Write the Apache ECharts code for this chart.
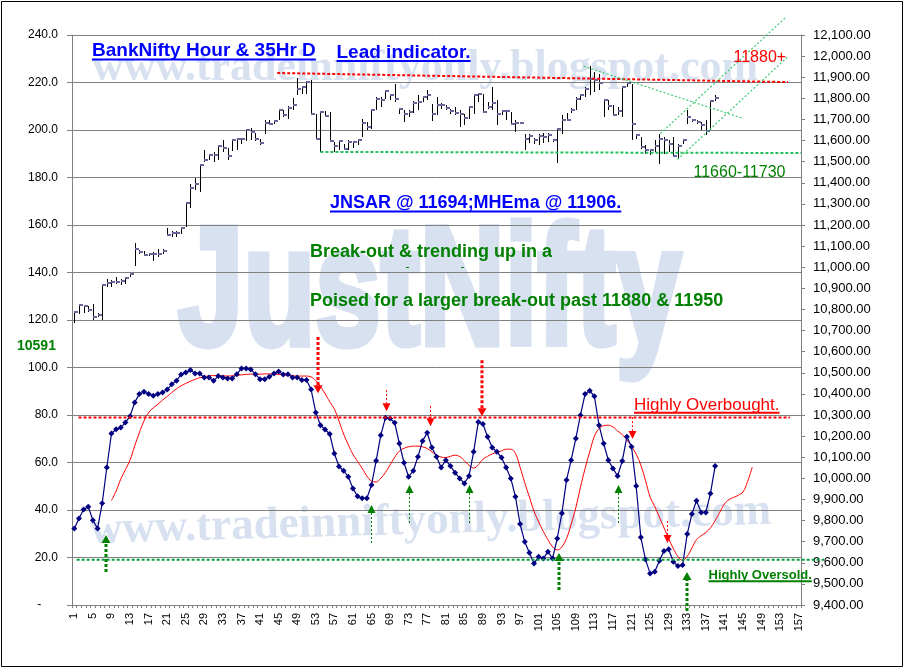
<!DOCTYPE html>
<html><head><meta charset="utf-8">
<script src="https://cdn.jsdelivr.net/npm/echarts@6/dist/echarts.min.js"></script>
<style>html,body{margin:0;padding:0;background:#fff}#c{width:906px;height:670px}</style>
</head><body><div id="c"></div>
<script>
// ---------------- DATA ----------------
const categories = [];
for (let i = 1; i <= 157; i++) categories.push(String(i));

const leftTicks = [0, 20, 40, 60, 80, 100, 120, 140, 160, 180, 200, 220, 240];

// BankNifty hourly bars (right axis) - categories 1..139
const priceHigh = [10789,10820,10820,10817,10825,10781,10915,10946,10939,10954,10946,10951,10970,11117,11081,11077,11068,11073,11084,11084,
11188,11172,11172,11191,11305,11393,11425,11483,11557,11538,11546,11573,11601,11565,11606,11614,11609,11652,11660,11636,
11609,11696,11696,11699,11751,11744,11762,11803,11898,11854,11878,11886,11728,11739,11740,11736,11594,11605,11586,11601,
11594,11606,11704,11688,11747,11804,11804,11838,11822,11867,11751,11743,11743,11788,11815,11810,11841,11775,11807,11778,
11767,11751,11759,11743,11728,11759,11815,11826,11822,11783,11854,11791,11747,11747,11736,11696,11688,11630,11630,11614,
11630,11636,11636,11609,11657,11720,11731,11756,11804,11822,11854,11952,11925,11917,11799,11791,11767,11759,11854,11878,
11870,11633,11617,11578,11562,11601,11633,11617,11601,11617,11586,11605,11743,11704,11696,11688,11696,11791,11815];
const priceLow = [10737,10778,10784,10789,10752,10765,10752,10907,10904,10920,10915,10920,10955,11008,11062,11054,11054,11028,11049,11062,
11147,11144,11144,11156,11191,11281,11368,11354,11499,11507,11499,11507,11546,11510,11551,11557,11583,11598,11601,11598,
11578,11633,11673,11680,11696,11712,11702,11747,11814,11822,11822,11728,11601,11546,11715,11597,11546,11557,11557,11557,
11567,11581,11617,11652,11657,11743,11759,11799,11791,11783,11728,11688,11712,11731,11743,11783,11794,11693,11720,11751,
11743,11728,11720,11665,11673,11704,11728,11783,11736,11751,11743,11673,11720,11696,11680,11641,11677,11554,11589,11586,
11578,11589,11594,11594,11494,11630,11693,11731,11743,11794,11807,11815,11830,11841,11712,11744,11720,11720,11712,11854,
11602,11609,11562,11538,11530,11546,11491,11538,11546,11523,11515,11583,11680,11688,11680,11649,11625,11652,11786];
const priceClose = [10789,10820,10817,10797,10765,10775,10915,10923,10929,10932,10935,10951,10967,11084,11073,11058,11062,11065,11062,11078,
11153,11164,11164,11185,11302,11377,11393,11483,11507,11531,11531,11573,11567,11526,11601,11608,11606,11649,11641,11609,
11589,11684,11680,11693,11747,11721,11756,11767,11846,11854,11878,11728,11606,11736,11715,11597,11573,11598,11562,11594,
11594,11601,11684,11665,11743,11799,11794,11835,11815,11799,11751,11728,11736,11778,11783,11804,11815,11728,11770,11770,
11756,11740,11732,11728,11709,11759,11815,11822,11736,11759,11778,11725,11740,11740,11680,11684,11685,11606,11622,11601,
11620,11617,11625,11601,11654,11699,11699,11747,11799,11815,11846,11893,11889,11873,11794,11764,11720,11740,11854,11873,
11680,11625,11570,11554,11554,11573,11609,11601,11583,11526,11573,11601,11712,11696,11688,11673,11646,11786,11803];

// Oscillator (left axis) - categories 1..139
const oscillator = [32.2,36.4,40.2,41.4,35.7,32.2,42.8,57.9,72.2,74.0,
74.7,76.8,79.5,85.3,88.8,89.8,88.8,88.1,88.8,89.5,
90.7,93.0,94.4,97.1,97.9,98.9,97.5,97.5,95.8,95.8,
94.4,96.4,95.8,95.4,95.4,97.2,99.6,99.6,99.2,97.2,
95.1,95.1,96.1,97.5,98.3,97.1,97.2,95.8,95.8,94.7,
94.7,90.7,81.1,75.7,73.9,72.0,63.8,58.3,56.5,54.0,
49.1,45.8,44.9,44.9,50.5,60.7,71.5,78.8,78.5,76.7,
68.0,59.9,54.0,56.5,62.4,69.1,72.5,66.3,62.4,57.9,
61.0,58.5,55.7,53.3,51.2,54.3,64.5,77.1,76.2,70.8,
66.3,64.5,62.1,57.9,53.3,45.6,34.1,26.6,22.0,17.5,
20.3,19.6,22.4,19.6,28.0,38.6,52.6,61.0,70.1,79.9,
88.8,90.2,87.9,75.7,68.0,61.0,57.5,54.3,60.6,70.8,
66.6,50.1,28.5,19.2,13.3,14.0,18.6,22.7,23.5,18.2,
16.4,16.8,29.9,38.3,43.9,39.0,39.0,47.0,58.5];

// Displaced signal line (left axis) - categories 9..147
const signalStart = 9;
const signal = [44,48,53,57,61,67,72.5,77.5,81,83,
84.5,86.3,87.8,89.5,91,92.3,93.3,94.2,95,95.7,
96.1,96.5,96.6,96.6,96.5,96.4,96.5,96.7,96.9,97.1,
97.2,97.2,97.2,97.3,97.3,97.2,97.1,96.9,96.7,96.5,
96.4,96.4,96.4,96,94.5,92,89,85.6,82.5,77.5,
72,67.5,63.5,60.5,57.5,54.3,52.2,51.8,53.4,55.8,
59,62.2,64.8,66,66.6,66.9,66.9,66.6,65.9,64.5,
63.2,62.3,62.1,62.6,63.1,62.5,60.8,58.8,57.7,59,
61.4,62.6,63.6,64.2,64.9,65.6,65.6,63.8,58,51.5,
45.5,39.5,35,31,27.5,24.5,23.2,24.5,28,34,
41,49.5,57.5,64.5,71,74.3,75.5,75.7,75,73.3,
71.8,69.5,66.8,63.5,58.9,52.5,45.5,41.5,37,32.5,
28,23.8,20.4,18.8,20.5,24,27.5,29.2,30.5,32.5,
35.5,39,42.5,44.4,45.3,46.2,47.6,52,58];

// Annotation lines: [cat1, val1, cat2, val2]
const overboughtLine = [[1.9, 79, 155.1, 79]];
const oversoldLine   = [[1.5, 19.1, 162.5, 19.1]];
const resistanceLine = [[44.7, 11920, 154.7, 11877]];
const supportLine    = [[54, 11546, 157.5, 11541]];
const trendLines     = [[110.7, 11952, 145, 11705], [127.2, 11633, 154.3, 12185], [130.9, 11510, 154.6, 11996]];
// Arrows: [cat, fromValue, tipValue, thick]
const redArrows   = [[53.5, 112.8, 89.2, 1], [68.1, 90.5, 81.6, 0], [77.6, 83.8, 75.3, 0], [88.9, 103.1, 79.5, 1], [121.2, 79.1, 69.9, 0], [128.6, 35.4, 26.1, 0]];
const greenArrows = [[7.8, 13.9, 29.5, 1], [65.0, 26.1, 42.1, 0], [73.0, 34.5, 50.5, 0], [85.9, 34.5, 50.5, 0], [105.3, 6.3, 21.9, 1], [118.1, 34.5, 50.5, 0], [132.9, -2.5, 13.9, 1]];

// ---------------- CHART ----------------
const FONT = '"Liberation Sans", Arial, sans-serif';
const SERIF = '"Liberation Serif", "Times New Roman", serif';
const chart = echarts.init(document.getElementById('c'), null, {renderer: 'canvas'});

const barData = priceHigh.map((h, i) => [i, h, priceLow[i], priceClose[i]]);
const signalData = categories.map((c, i) => {
  const k = i + 1 - signalStart;
  return (k >= 0 && k < signal.length) ? signal[k] : null;
});

function renderBar(params, api) {
  const i = api.value(0);
  const ph = api.coord([i, api.value(1)]);
  const pl = api.coord([i, api.value(2)]);
  const pc = api.coord([i, api.value(3)]);
  const x = Math.round(ph[0]) + 0.5;
  return {type: 'group', children: [
    {type: 'line', shape: {x1: x, y1: Math.round(ph[1]), x2: x, y2: Math.round(pl[1])}, style: {stroke: '#000', lineWidth: 1}},
    {type: 'rect', shape: {x: x - 0.5, y: Math.round(pc[1]) - 1, width: 4, height: 2}, style: {fill: '#666699'}}
  ]};
}
function segRenderer(color, width, dash) {
  return function (params, api) {
    const a = api.coord([api.value(0), api.value(1)]);
    const b = api.coord([api.value(2), api.value(3)]);
    return {type: 'line', shape: {x1: a[0], y1: a[1], x2: b[0], y2: b[1]},
      style: {stroke: color, lineWidth: width, lineDash: dash}};
  };
}
function arrowRenderer(color) {
  return function (params, api) {
    const c = api.value(0);
    const p0 = api.coord([c, api.value(1)]);
    const p1 = api.coord([c, api.value(2)]);
    const thick = api.value(3) === 1;
    const x = Math.round(p0[0]) + (thick ? 0 : 0.5);
    const dir = p1[1] > p0[1] ? 1 : -1;
    const hh = 8, hw = thick ? 4.5 : 4;
    const base = p1[1] - dir * hh;
    return {type: 'group', children: [
      {type: 'line', shape: {x1: x, y1: p0[1], x2: x, y2: base},
        style: {stroke: color, lineWidth: thick ? 3 : 1, lineDash: thick ? [3, 2] : [2, 2]}},
      {type: 'polygon', shape: {points: [[x - hw, base], [x + hw, base], [x, p1[1]]]}, style: {fill: color}}
    ]};
  };
}

// text helpers (graphic annotations)
const mctx = document.createElement('canvas').getContext('2d');
function measure(text, font) { mctx.font = font; return mctx.measureText(text).width; }
const graphics = [];
function addText(text, x, baseline, size, color, bold, underline, family, extra) {
  const fam = family || FONT;
  const font = (bold ? 'bold ' : '') + size + 'px ' + fam;
  graphics.push(Object.assign({type: 'text', x: x, y: baseline - 0.31 * size, z: 20,
    style: {text: text, font: font, fill: color, textAlign: 'left', textVerticalAlign: 'middle'}}, extra || {}));
  if (underline) {
    const w = measure(text, font);
    graphics.push({type: 'rect', z: 20, shape: {x: x, y: baseline + underline, width: w, height: 2}, style: {fill: color}});
  }
}
// watermarks
const wm = '#d7e1f0';
graphics.push({type: 'text', x: 178, y: 350 - 0.31 * 168, z: -10, scaleX: 0.7,
  style: {text: 'JustNifty', font: 'bold 168px ' + FONT, fill: wm, stroke: wm, lineWidth: 7,
    textAlign: 'left', textVerticalAlign: 'middle'}});
graphics.push({type: 'text', x: 92, y: 82 - 0.305 * 44, z: -10,
  style: {text: 'www.tradeinniftyonly.blogspot.com', font: 'bold 44px ' + SERIF, fill: wm, textVerticalAlign: 'middle'}});
graphics.push({type: 'text', x: 90, y: 545 - 0.305 * 45, z: -10, rotation: 0.028,
  style: {text: 'www.tradeinniftyonly.blogspot.com', font: 'bold 45px ' + SERIF, fill: wm, textVerticalAlign: 'middle'}});

addText('BankNifty Hour & 35Hr D', 92, 57, 19, '#0000ff', true, 1.5);
addText('Lead indicator.', 336.5, 58.5, 19, '#0000ff', true, 1.5);
addText('11880+', 733.5, 63, 16, '#ff0000', false, 0);
addText('11660-11730', 693.5, 178, 16, '#008000', false, 0);
addText('JNSAR @ 11694;MHEma @ 11906.', 330, 208.5, 18, '#0000ff', true, 2);
addText('Break-out & trending up in a', 310, 258, 18, '#008000', true, 0);
addText('Poised for a larger break-out past 11880 & 11950', 310, 307, 18, '#008000', true, 0);
addText('Highly Overbought.', 634, 410.5, 17, '#ff0000', false, 1.2);
addText('Highly Oversold.', 708.5, 579.5, 13, '#008000', true, 0.8);
addText('10591', 17, 350, 14, '#008000', true, 0);
graphics.push({type: 'rect', z: 20, shape: {x: 406, y: 267, width: 3, height: 1}, style: {fill: '#008000'}});
graphics.push({type: 'rect', z: 20, shape: {x: 461, y: 267, width: 3, height: 1}, style: {fill: '#008000'}});
graphics.push({type: 'rect', z: 20, shape: {x: 1.5, y: 1.5, width: 901, height: 665}, style: {fill: null, stroke: '#000', lineWidth: 1}});

const option = {
  animation: false,
  backgroundColor: '#fff',
  textStyle: {fontFamily: FONT},
  grid: {left: 72, right: 105, top: 35, bottom: 65, containLabel: false, outerBoundsMode: 'none'},
  xAxis: [{
    type: 'category', data: categories, boundaryGap: true,
    axisLine: {show: true, lineStyle: {color: '#808080', width: 1}},
    axisTick: {show: true, interval: 0, length: 3, lineStyle: {color: '#808080'}},
    axisLabel: {interval: 3, rotate: 90, margin: 8, fontSize: 11, color: '#000', fontFamily: FONT},
    splitLine: {show: false}
  }, {
    type: 'value', min: 0.5, max: 157.5, show: false, position: 'bottom'
  }],
  yAxis: [{
    type: 'value', min: 0, max: 240, interval: 20, position: 'left',
    axisLine: {show: true, lineStyle: {color: '#808080', width: 1}},
    axisTick: {show: true, length: 5, lineStyle: {color: '#808080'}},
    axisLabel: {margin: 14, fontSize: 12, color: '#000', fontFamily: FONT,
      formatter: v => v === 0 ? '-     ' : v.toFixed(1)},
    splitLine: {show: true, lineStyle: {color: '#808080', width: 1}}
  }, {
    type: 'value', min: 9400, max: 12100, interval: 100, position: 'right',
    axisLine: {show: true, lineStyle: {color: '#808080', width: 1}},
    axisTick: {show: true, length: 4, lineStyle: {color: '#808080'}},
    axisLabel: {margin: 12, fontSize: 13, color: '#000', fontFamily: FONT,
      formatter: v => v.toLocaleString('en-US', {minimumFractionDigits: 2, maximumFractionDigits: 2})},
    splitLine: {show: false}
  }],
  graphic: {elements: graphics},
  series: [
    {type: 'custom', name: 'BankNifty', xAxisIndex: 0, yAxisIndex: 1, renderItem: renderBar,
      encode: {x: 0, y: [1, 2, 3]}, data: barData, z: 3, silent: true},
    {type: 'line', name: 'Signal', xAxisIndex: 0, yAxisIndex: 0, data: signalData, smooth: 0.4,
      showSymbol: false, symbol: 'none', lineStyle: {color: '#ff0000', width: 1}, itemStyle: {color: '#ff0000'}, z: 4, silent: true},
    {type: 'line', name: 'Oscillator', xAxisIndex: 0, yAxisIndex: 0, data: oscillator,
      symbol: 'diamond', symbolSize: 6, showAllSymbol: true, lineStyle: {color: '#000080', width: 1.2},
      itemStyle: {color: '#000080', borderWidth: 0}, z: 5, silent: true},
    {type: 'custom', xAxisIndex: 1, yAxisIndex: 0, renderItem: segRenderer('#ff0000', 2, [3, 2]),
      encode: {x: [0, 2], y: [1, 3]}, data: overboughtLine, z: 6, silent: true},
    {type: 'custom', xAxisIndex: 1, yAxisIndex: 0, renderItem: segRenderer('#00a040', 2, [3, 2]),
      encode: {x: [0, 2], y: [1, 3]}, data: oversoldLine, z: 6, silent: true},
    {type: 'custom', xAxisIndex: 1, yAxisIndex: 1, renderItem: segRenderer('#ff0000', 2, [3, 2]),
      encode: {x: [0, 2], y: [1, 3]}, data: resistanceLine, z: 6, silent: true},
    {type: 'custom', xAxisIndex: 1, yAxisIndex: 1, renderItem: segRenderer('#22c05a', 2, [3, 2]),
      encode: {x: [0, 2], y: [1, 3]}, data: supportLine, z: 6, silent: true},
    {type: 'custom', xAxisIndex: 1, yAxisIndex: 1, renderItem: segRenderer('#3ccc70', 1.2, [2, 2]),
      encode: {x: [0, 2], y: [1, 3]}, data: trendLines, z: 6, silent: true},
    {type: 'custom', xAxisIndex: 1, yAxisIndex: 0, renderItem: arrowRenderer('#ff0000'),
      encode: {x: 0, y: [1, 2]}, data: redArrows, z: 7, silent: true},
    {type: 'custom', xAxisIndex: 1, yAxisIndex: 0, renderItem: arrowRenderer('#008000'),
      encode: {x: 0, y: [1, 2]}, data: greenArrows, z: 7, silent: true}
  ]
};
chart.setOption(option);
</script>
</body></html>
